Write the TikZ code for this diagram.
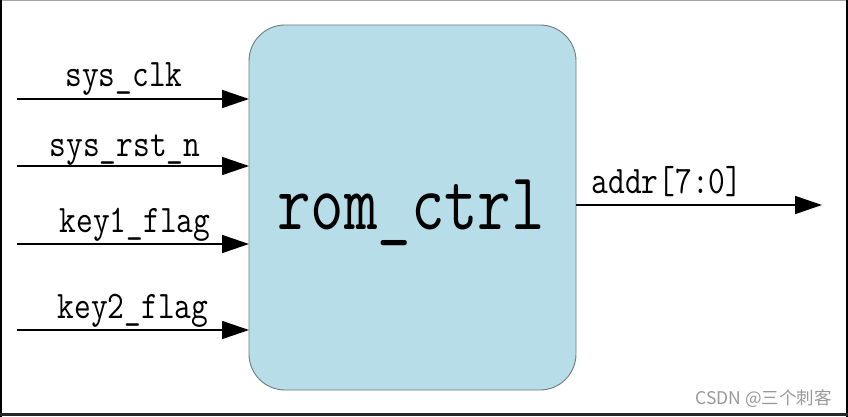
\documentclass[tikz,border=0pt]{standalone}
\usepackage{fontspec}
\usepackage{graphicx}
\newfontfamily\cjk{Noto Sans CJK SC}
\usetikzlibrary{arrows.meta}
\definecolor{boxfill}{HTML}{B7DDE8}
\definecolor{boxdraw}{HTML}{6E7B80}
\newcommand{\tallt}[2]{\scalebox{1}[#1]{#2}}
\tikzset{
  sig/.style={draw=black, line width=1.6pt, -{Triangle[length=27pt,width=18pt]}},
  lbl/.style={anchor=base, inner sep=0pt, font=\ttfamily\fontsize{32.5}{34}\selectfont},
  blk/.style={draw=boxdraw, line width=0.9pt, fill=boxfill, rounded corners=36pt}
}
\begin{document}
\begin{tikzpicture}[x=1pt,y=-1pt]
\useasboundingbox (0,0) rectangle (848,417);
\fill[white] (0,0) rectangle (848,417);
% frame
\draw[gray!70, line width=1pt] (0,0.5) -- (848,0.5);
\draw[black, line width=2pt] (1,0) -- (1,417);
\draw[black, line width=2pt] (847,0) -- (847,417);
\draw[black!85, line width=3pt] (0,414.5) -- (848,414.5);
% block
\draw[blk] (249,25) rectangle (576,390);
\node[anchor=base, inner sep=0pt, font=\ttfamily\fontsize{65}{70}\selectfont] (core) at (411,229) {\tallt{1.25}{rom\_ctrl}};
% input anchors
\coordinate (i1s) at (17,99);  \coordinate (i1e) at (249,99);
\coordinate (i2s) at (17,166); \coordinate (i2e) at (249,166);
\coordinate (i3s) at (17,244); \coordinate (i3e) at (249,244);
\coordinate (i4s) at (17,330); \coordinate (i4e) at (249,330);
\coordinate (os) at (576,205); \coordinate (oe) at (822,205);
\draw[sig] (i1s) -- (i1e);
\draw[sig] (i2s) -- (i2e);
\draw[sig] (i3s) -- (i3e);
\draw[sig] (i4s) -- (i4e);
\draw[sig] (os) -- (oe);
\node[lbl] (l1) at (124,87) {\tallt{1.2}{sys\_clk}};
\node[lbl] (l2) at (125,157) {\tallt{1.2}{sys\_rst\_n}};
\node[lbl] (l3) at (135,232) {\tallt{1.2}{key1\_flag}};
\node[lbl] (l4) at (133,318) {\tallt{1.2}{key2\_flag}};
\node[lbl] (lo) at (667,193) {\tallt{1.2}{addr[7:0]}};
\node[anchor=base east, inner sep=0pt, text=gray!80, font=\cjk\fontsize{17.5}{18}\selectfont] (wm) at (832,404) {CSDN @三个刺客};
\end{tikzpicture}
\end{document}
